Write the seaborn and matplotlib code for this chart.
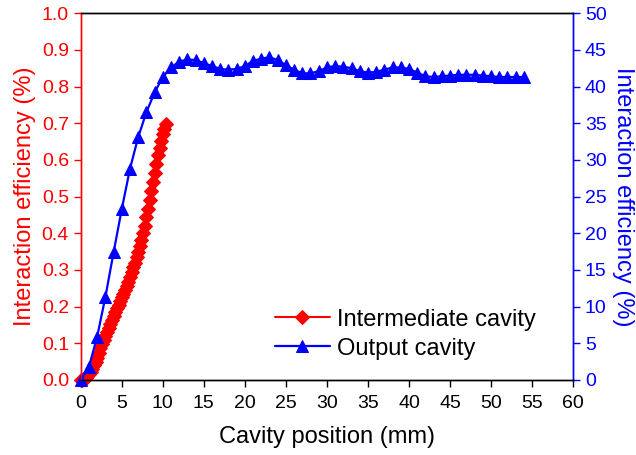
import matplotlib
matplotlib.use("Agg")
import matplotlib.pyplot as plt
import seaborn as sns
import pandas as pd

# intermediate cavity (left axis, efficiency in %)
inter_x = [0.0, 0.2, 0.4, 0.6, 0.8, 1.0, 1.2, 1.4, 1.6, 1.8,
           2.0, 2.2, 2.4, 2.6, 2.8, 3.0, 3.2, 3.4, 3.6, 3.8,
           4.0, 4.2, 4.4, 4.6, 4.8, 5.0, 5.2, 5.4, 5.6, 5.8,
           6.0, 6.2, 6.4, 6.6, 6.8, 7.0, 7.2, 7.4, 7.6, 7.8,
           8.0, 8.2, 8.4, 8.6, 8.8, 9.0, 9.2, 9.4, 9.6, 9.8,
           10.0, 10.2, 10.4]
inter_y = [0.000, 0.001, 0.003, 0.006, 0.010, 0.015, 0.022, 0.030, 0.040, 0.050,
           0.061, 0.073, 0.086, 0.099, 0.110, 0.121, 0.131, 0.141, 0.152, 0.163,
           0.174, 0.184, 0.195, 0.205, 0.215, 0.225, 0.235, 0.245, 0.256, 0.268,
           0.281, 0.294, 0.307, 0.320, 0.334, 0.349, 0.364, 0.381, 0.401, 0.421,
           0.443, 0.466, 0.490, 0.515, 0.540, 0.565, 0.590, 0.612, 0.633, 0.652,
           0.670, 0.684, 0.697]

# output cavity (right axis)
out_x = [0, 1, 2, 3, 4, 5, 6, 7, 8, 9,
         10, 11, 12, 13, 14, 15, 16, 17, 18, 19,
         20, 21, 22, 23, 24, 25, 26, 27, 28, 29,
         30, 31, 32, 33, 34, 35, 36, 37, 38, 39,
         40, 41, 42, 43, 44, 45, 46, 47, 48, 49,
         50, 51, 52, 53, 54]
out_y = [0.0, 1.8, 5.9, 11.3, 17.4, 23.3, 28.8, 33.1, 36.5, 39.2,
         41.3, 42.6, 43.4, 43.7, 43.6, 43.2, 42.8, 42.4, 42.3, 42.4,
         42.8, 43.5, 43.8, 44.0, 43.6, 42.9, 42.3, 41.8, 41.8, 42.1,
         42.6, 42.8, 42.7, 42.5, 42.1, 41.9, 42.0, 42.3, 42.6, 42.6,
         42.4, 41.9, 41.4, 41.3, 41.4, 41.5, 41.6, 41.6, 41.6, 41.5,
         41.4, 41.3, 41.3, 41.3, 41.3]

x_ticks = list(range(0, 61, 5))
left_ticks = [i / 10 for i in range(11)]
right_ticks = list(range(0, 51, 5))

sns.set_style("ticks")
plt.rcParams["font.family"] = ["Liberation Sans", "DejaVu Sans"]
plt.rcParams["text.color"] = "black"
plt.rcParams["axes.labelcolor"] = "black"
plt.rcParams["xtick.direction"] = "out"
plt.rcParams["ytick.direction"] = "out"

red = "#ff0000"
blue = "#0000ff"

fig = plt.figure(figsize=(6.36, 4.55), dpi=100)
ax = fig.add_axes([0.127, 0.165, 0.774, 0.806])

df_in = pd.DataFrame({"x": inter_x, "y": inter_y})
df_out = pd.DataFrame({"x": out_x, "y": out_y})

sns.lineplot(data=df_in, x="x", y="y", ax=ax, color=red, marker="D",
             markersize=7.5, markeredgecolor=red, linewidth=1.5,
             clip_on=False, label="Intermediate cavity")
ax2 = ax.twinx()
sns.lineplot(data=df_out, x="x", y="y", ax=ax2, color=blue, marker="^",
             markersize=9, markeredgecolor=blue, linewidth=1.6,
             clip_on=False, label="Output cavity")

ax.set_xlim(0, 60)
ax.set_ylim(0, 1.0)
ax2.set_ylim(0, 50)
ax.set_xticks(x_ticks)
ax.set_yticks(left_ticks)
ax.set_yticklabels([f"{t:.1f}" for t in left_ticks])
ax2.set_yticks(right_ticks)

ax.set_xlabel("Cavity position (mm)", fontsize=17, labelpad=10)
ax.set_ylabel("Interaction efficiency (%)", fontsize=17, color=red, labelpad=4)
ax2.set_ylabel("Interaction efficiency (%)", fontsize=17, color=blue,
               rotation=270, labelpad=20)

ax.tick_params(axis="x", labelsize=14, colors="black", length=5, width=1, pad=6)
ax.tick_params(axis="y", labelsize=14, colors=red, length=5, width=1)
ax2.tick_params(axis="y", labelsize=14, colors=blue, length=5, width=1)

for a in (ax, ax2):
    for s in a.spines.values():
        s.set_visible(True)
        s.set_linewidth(1.0)
        s.set_color("black")
    a.spines["left"].set_color(red)
    a.spines["right"].set_color(blue)

h1, l1 = ax.get_legend_handles_labels()
h2, l2 = ax2.get_legend_handles_labels()
ax.get_legend().remove()
ax2.get_legend().remove()
ax2.legend(h1 + h2, l1 + l2, loc="lower left", bbox_to_anchor=(0.395, 0.055),
           frameon=False, fontsize=17, handlelength=2.3, handletextpad=0.3,
           borderpad=0, borderaxespad=0, labelspacing=0.3)

fig.savefig("out.png", dpi=100)
